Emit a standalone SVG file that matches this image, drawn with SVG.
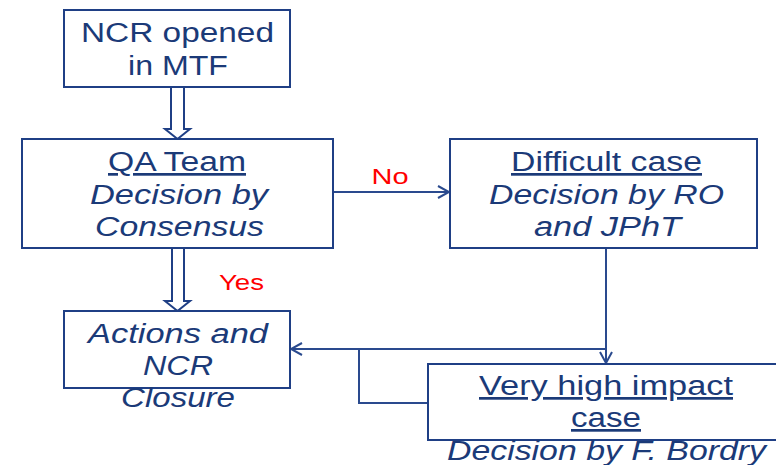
<svg xmlns="http://www.w3.org/2000/svg" width="776" height="465" viewBox="0 0 776 465">
  <defs>
    <style>
      .box { fill: #ffffff; stroke: #1f3f85; stroke-width: 2; }
      .blk { fill: #ffffff; stroke: #1f3f85; stroke-width: 2; stroke-linejoin: miter; }
      .ln { fill: none; stroke: #2a4a8e; stroke-width: 2; }
      .t { font-family: "Liberation Sans", Arial, sans-serif; font-size: 27px; fill: #1b3a78; text-anchor: middle; }
      .i { font-style: italic; }
      .u { text-decoration: underline; }
      .lbl { font-family: "Liberation Sans", Arial, sans-serif; font-size: 22px; fill: #ff0000; text-anchor: middle; }
    </style>
    <marker id="open" markerWidth="14" markerHeight="14" refX="12" refY="7" orient="auto" markerUnits="userSpaceOnUse">
      <path d="M1,1 L12,7 L1,13" fill="none" stroke="#2a4a8e" stroke-width="2"/>
    </marker>
  </defs>

  <rect width="776" height="465" fill="#ffffff"/>

  <!-- connectors -->
  <g id="connectors">
    <!-- block arrow: opened -> QA team -->
    <path class="blk" d="M171,87 L184,87 L184,129 L190,129 L177.5,139 L165,129 L171,129 Z"/>
    <!-- block arrow: QA team -> closure -->
    <path class="blk" d="M172,248 L184,248 L184,301 L190,301 L177.5,311 L165,301 L172,301 Z"/>
    <!-- QA team -> difficult case -->
    <line class="ln" x1="333" y1="192" x2="449" y2="192" marker-end="url(#open)"/>
    <!-- difficult case -> very high impact -->
    <line class="ln" x1="606" y1="248" x2="606" y2="363" marker-end="url(#open)"/>
    <!-- very high impact -> closure -->
    <polyline class="ln" points="428,403 359,403 359,349"/>
    <line class="ln" x1="606" y1="349" x2="291" y2="349" marker-end="url(#open)"/>
    <text class="lbl" x="390" y="184" textLength="37" lengthAdjust="spacingAndGlyphs">No</text>
    <text class="lbl" x="241.5" y="290" textLength="45" lengthAdjust="spacingAndGlyphs">Yes</text>
  </g>

  <g id="ncr-opened">
    <rect class="box" x="64" y="10" width="226" height="77"/>
    <text class="t" x="177.5" y="42" textLength="193" lengthAdjust="spacingAndGlyphs">NCR opened</text>
    <text class="t" x="178" y="75" textLength="100" lengthAdjust="spacingAndGlyphs">in MTF</text>
  </g>

  <g id="qa-team">
    <rect class="box" x="22" y="139" width="311" height="109"/>
    <text class="t u" x="177" y="171" textLength="138" lengthAdjust="spacingAndGlyphs">QA Team</text>
    <text class="t i" x="179" y="204" textLength="178" lengthAdjust="spacingAndGlyphs">Decision by</text>
    <text class="t i" x="179.5" y="236" textLength="169" lengthAdjust="spacingAndGlyphs">Consensus</text>
  </g>

  <g id="difficult-case">
    <rect class="box" x="450" y="139" width="307" height="109"/>
    <text class="t u" x="606.5" y="171" textLength="191" lengthAdjust="spacingAndGlyphs">Difficult case</text>
    <text class="t i" x="606.5" y="204" textLength="235" lengthAdjust="spacingAndGlyphs">Decision by RO</text>
    <text class="t i" x="607.5" y="236" textLength="147" lengthAdjust="spacingAndGlyphs">and JPhT</text>
  </g>

  <g id="closure">
    <rect class="box" x="64" y="311" width="226" height="77"/>
    <text class="t i" x="178" y="343" textLength="180" lengthAdjust="spacingAndGlyphs">Actions and</text>
    <text class="t i" x="178" y="375" textLength="70" lengthAdjust="spacingAndGlyphs">NCR</text>
    <text class="t i" x="178" y="407" textLength="114" lengthAdjust="spacingAndGlyphs">Closure</text>
  </g>

  <g id="very-high-impact">
    <rect class="box" x="428" y="364" width="360" height="76"/>
    <text class="t u" x="606" y="395" textLength="254" lengthAdjust="spacingAndGlyphs">Very high impact</text>
    <text class="t u" x="606" y="427" textLength="70" lengthAdjust="spacingAndGlyphs">case</text>
    <text class="t i" x="606.5" y="460" textLength="319" lengthAdjust="spacingAndGlyphs">Decision by F. Bordry</text>
  </g>
</svg>
